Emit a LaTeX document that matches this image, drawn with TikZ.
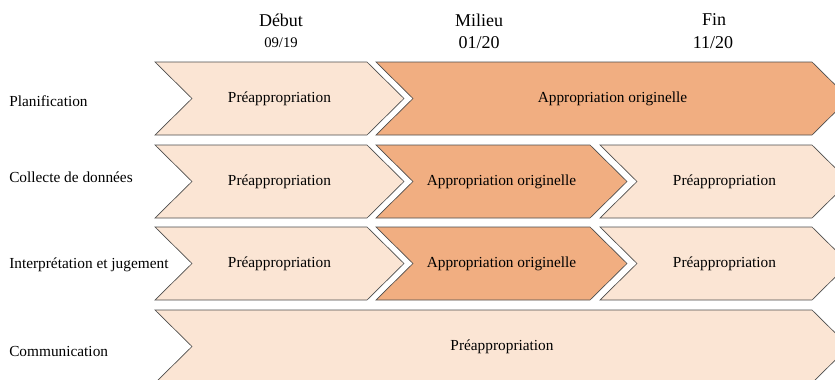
\documentclass[tikz,border=0pt]{standalone}
\usepackage{fontspec}
\setmainfont{Liberation Serif}
\usepackage{tikz}

\definecolor{hell}{RGB}{251,229,212}
\definecolor{dunkel}{RGB}{241,174,129}

\tikzset{
  chevline/.style={draw=black!70, line width=0.5pt},
  chevtext/.style={font=\fontsize{11.5}{13}\selectfont, inner sep=0pt},
  rowlabel/.style={font=\fontsize{11.5}{13}\selectfont, inner sep=0pt, anchor=west},
  phase/.style={font=\fontsize{13.5}{15}\selectfont, inner sep=0pt}
}

% Pfeil: Name, x links, x rechts oben, y oben, Farbe, Text
\newcommand{\chev}[6]{%
  \draw[chevline, fill=#5] (#2,#4) -- (#3,#4) -- ++(37,36.5) -- ++(-37,36.5)
    -- (#2,#4+73) -- ++(37,-36.5) -- cycle;
  \node[chevtext] (#1) at ({(#2+#3)/2+18.5},#4+36.5) {#6};
}

\begin{document}
\begin{tikzpicture}[x=0.75pt, y=-0.75pt]
  \useasboundingbox (0,0) rectangle (835,379);
  \clip (0,0) rectangle (835,379);

  % Kopf
  \node[phase] (debut) at (281,20) {Début};
  \node[phase, font=\fontsize{11}{13}\selectfont] (debutdate) at (281,43) {09/19};
  \node[phase] (milieu) at (479,20) {Milieu};
  \node[phase] (milieudate) at (479,43) {01/20};
  \node[phase] (fin) at (714,20) {Fin};
  \node[phase] (findate) at (713,43) {11/20};

  % Zeilen
  \node[rowlabel] (lplan) at (9,101) {Planification};
  \node[rowlabel] (lcoll) at (9,177) {Collecte de données};
  \node[rowlabel] (linterp) at (9,265) {Interprétation et jugement};
  \node[rowlabel] (lcomm) at (9,351) {Communication};

  % Inhalt
  \chev{plan1}{155}{367}{62}{hell}{Préappropriation}
  \chev{plan2}{376}{812}{62}{dunkel}{Appropriation originelle}

  \chev{coll1}{155}{367}{145}{hell}{Préappropriation}
  \chev{coll2}{376}{590}{145}{dunkel}{Appropriation originelle}
  \chev{coll3}{600}{812}{145}{hell}{Préappropriation}

  \chev{interp1}{155}{367}{227}{hell}{Préappropriation}
  \chev{interp2}{376}{590}{227}{dunkel}{Appropriation originelle}
  \chev{interp3}{600}{812}{227}{hell}{Préappropriation}

  \chev{comm1}{155}{812}{310}{hell}{Préappropriation}

\end{tikzpicture}
\end{document}
